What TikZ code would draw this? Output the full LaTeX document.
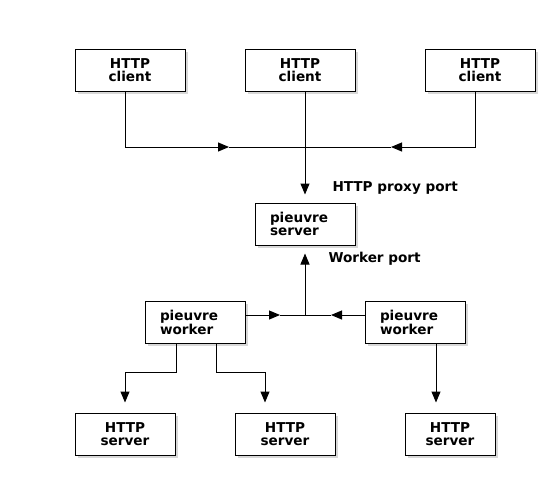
\documentclass[tikz,border=0pt]{standalone}
\usepackage{fontspec}
\setmainfont{DejaVu Sans}
\usetikzlibrary{arrows.meta}
\usetikzlibrary{shadows}

\tikzset{
	box/.style={draw, line width=1pt, fill=white, inner sep=0pt, minimum width=100pt, minimum height=42pt, align=center, font=\bfseries\fontsize{13.6}{13.2}\selectfont, drop shadow={shadow xshift=2.5pt, shadow yshift=-2.5pt, fill=black!30}},
	lbox/.style={box, text width=70pt, inner xsep=15pt, align=left},
	lbl/.style={anchor=west, inner sep=0pt, font=\bfseries\fontsize{13.6}{13.2}\selectfont},
	arr/.style={-{Triangle[length=11pt, width=9pt]}},
}

\begin{document}
\begin{tikzpicture}[x=1pt, y=-1pt, line width=1pt]
				\useasboundingbox (0, 0) rectangle (560, 490);

				\node[box, minimum width=110pt] (c1) at (130, 70) {HTTP\\client};
				\node[box, minimum width=110pt] (c2) at (300, 70) {HTTP\\client};
				\node[box, minimum width=110pt] (c3) at (480, 70) {HTTP\\client};
				\node[lbox] (srv) at (305, 224) {pieuvre\\server};
				\node[lbox] (w1) at (195, 322.5) {pieuvre\\worker};
				\node[lbox] (w2) at (415, 322.5) {pieuvre\\worker};
				\node[box] (h1) at (125, 434) {HTTP\\server};
				\node[box] (h2) at (285, 434) {HTTP\\server};
				\node[box, minimum width=90pt] (h3) at (450, 434) {HTTP\\server};

				\node[lbl] (pp) at (332, 188) {HTTP proxy port};
				\node[lbl] (wp) at (328, 259) {Worker port};

				\coordinate (j1) at (305, 147);
				\coordinate (a1) at (229, 147);
				\coordinate (a2) at (391, 147);
				\coordinate (j2) at (305, 315);
				\coordinate (a3) at (280, 315);
				\coordinate (a4) at (331, 315);

				\draw[arr] ([xshift=-5pt]c1.south) |- (a1);
				\draw (a1)--(j1);
				\draw[arr] ([xshift=-5pt]c3.south) |- (a2);
				\draw (a2)--(j1);
				\draw[arr, shorten >=8pt] (srv.north |- c2.south)--(srv.north);

				\draw[arr] (w1.east |- j2)--(a3);
				\draw (a3)--(j2);
				\draw[arr] (w2.west |- j2)--(a4);
				\draw (a4)--(j2);
				\draw[arr, shorten >=8pt] (j2)--(srv.south);

				\draw[arr, shorten >=10pt] ([xshift=-19pt]w1.south)--++(0, 28) -| (h1.north);
				\draw[arr, shorten >=10pt] ([xshift=21pt]w1.south)--++(0, 28) -| ([xshift=-20pt]h2.north);
				\draw[arr, shorten >=10pt] ([xshift=21pt]w2.south)--([xshift=-14pt]h3.north);
			\end{tikzpicture}
\end{document}
